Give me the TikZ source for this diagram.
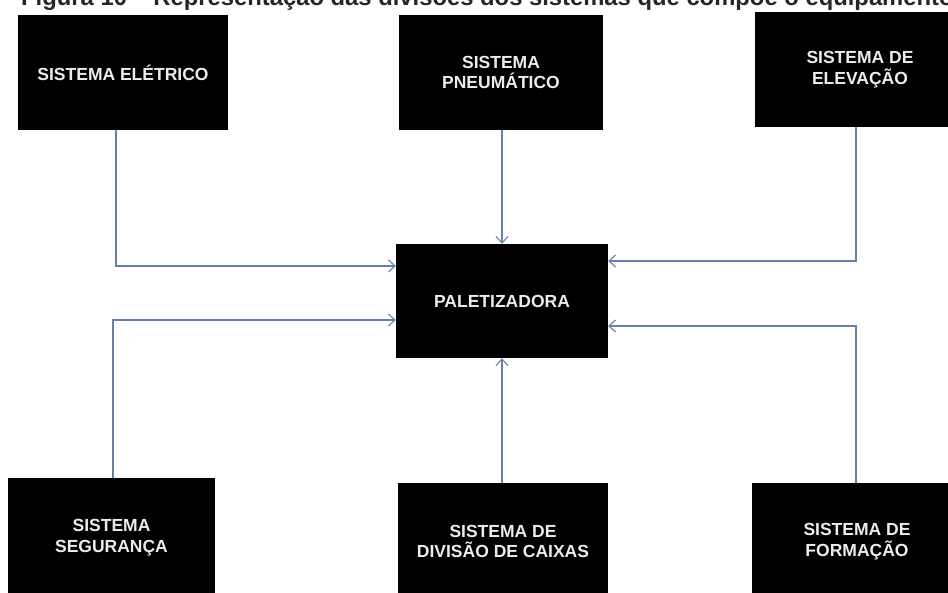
\documentclass[tikz,border=0pt]{standalone}
\usepackage{fontspec}
\setmainfont{Liberation Sans}
\usetikzlibrary{arrows.meta}
\definecolor{linkblue}{RGB}{100,130,166}
\definecolor{labelgray}{RGB}{236,236,236}
\tikzset{
  sysbox/.style={fill=black, draw=none, inner sep=0pt, align=center,
    text=labelgray, font=\fontsize{17.5}{20.5}\selectfont\bfseries},
  link/.style={draw=linkblue, line width=1.2pt,
    -{Straight Barb[length=6.5pt,width=12pt,line width=1.1pt]}}
}
\begin{document}
\begin{tikzpicture}[x=1pt,y=-1pt]
  \clip (0,0) rectangle (948,592);
  \fill[white] (0,0) rectangle (948,592);

  % caption line, cut off by the top edge
  \node[anchor=base west, inner sep=0pt, font=\fontsize{23.8}{26}\selectfont\bfseries,
        text=black!85] (cap) at (21,5.5)
    {Figura 10 – Representação das divisões dos sistemas que compõe o equipamento};

  % central machine
  \node[sysbox, minimum width=212pt, minimum height=114pt] (pal) at (502,301) {PALETIZADORA};

  % subsystems
  \node[sysbox, minimum width=210pt, minimum height=115pt] (ele) at (123,72.5) {SISTEMA ELÉTRICO};
  \node[sysbox, minimum width=204pt, minimum height=115pt] (pne) at (501,72.5) {SISTEMA\\PNEUMÁTICO};
  \node[sysbox, minimum width=210pt, minimum height=115pt] (elv) at (860,69.5) {SISTEMA DE\\ELEVAÇÃO};
  \node[sysbox, minimum width=207pt, minimum height=119pt] (seg) at (111.5,537.5) {SISTEMA\\SEGURANÇA};
  \node[sysbox, minimum width=210pt, minimum height=117pt] (div) at (503,541.5) {SISTEMA DE\\DIVISÃO DE CAIXAS};
  \node[sysbox, minimum width=210pt, minimum height=117pt] (frm) at (857,541.5) {SISTEMA DE\\FORMAÇÃO};

  % connectors into the central machine
  \draw[link] ([xshift=-7pt]ele.south) |- ([yshift=35pt]pal.west);
  \draw[link] (pne.south -| pal.north) -- (pal.north);
  \draw[link] ([xshift=-4pt]elv.south) |- ([yshift=40pt]pal.east);
  \draw[link] ([xshift=1.5pt]seg.north) |- ([yshift=-19pt]pal.west);
  \draw[link] (div.north -| pal.south) -- (pal.south);
  \draw[link] ([xshift=-1pt]frm.north) |- ([yshift=-25pt]pal.east);
\end{tikzpicture}
\end{document}
